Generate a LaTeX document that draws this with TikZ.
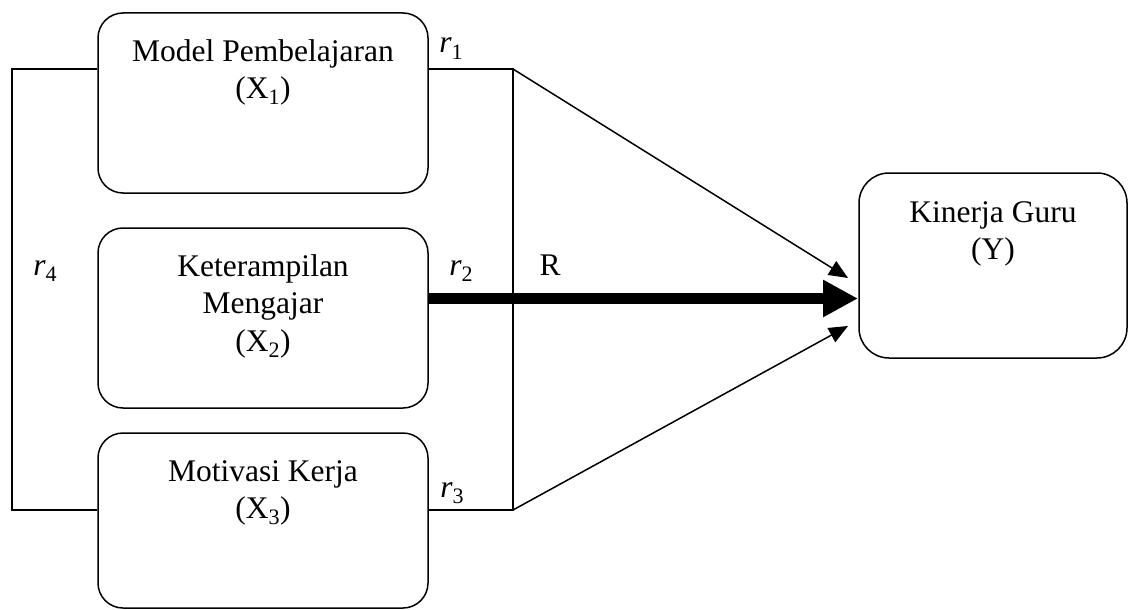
\documentclass[tikz,border=0pt]{standalone}
\usepackage{fontspec}
\setmainfont{Liberation Serif}
\usetikzlibrary{arrows.meta}
\tikzset{
  box/.style={draw, line width=1.5pt, rounded corners=25pt, inner sep=0pt},
  txt/.style={align=center, anchor=north, inner sep=0pt, font=\fontsize{31.5}{37.5}\selectfont},
  lbl/.style={anchor=base, inner sep=0pt, font=\fontsize{31.5}{36}\selectfont},
  conn/.style={line width=1.5pt},
  arr/.style={line width=1.5pt, -{Triangle[length=19pt,width=16pt]}},
  bigarr/.style={line width=11pt, -{Triangle[length=35pt,width=35pt]}}
}
\newcommand{\rlab}[1]{\textit{r}\raisebox{-0.22em}{\fontsize{22}{24}\selectfont #1}}
\begin{document}
\begin{tikzpicture}[x=1pt,y=-1pt]
\useasboundingbox (0,0) rectangle (1130,610);
% boxes
\node[box, minimum width=330pt, minimum height=180pt] (x1) at (263,103) {};
\node[box, minimum width=330pt, minimum height=180pt] (x2) at (263,318) {};
\node[box, minimum width=330pt, minimum height=175pt] (x3) at (263,520.5) {};
\node[box, minimum width=268pt, minimum height=185pt, rounded corners=30pt] (y) at (993,265.5) {};
% box texts
\node[txt] (x1t) at (263,39) {Model Pembelajaran\\(X\textsubscript{1})};
\node[txt] (x2t) at (263,254) {Keterampilan\\Mengajar\\(X\textsubscript{2})};
\node[txt] (x3t) at (263,460) {Motivasi Kerja\\(X\textsubscript{3})};
\node[txt] (yt) at (993,201) {Kinerja Guru\\(Y)};
% coordinates
\coordinate (lt) at (12,69);
\coordinate (lb) at (12,510);
\coordinate (rt) at (513,69);
\coordinate (rb) at (513,510);
\coordinate (ya) at (848,278);
\coordinate (ym) at (858,298.5);
\coordinate (yb) at (848,326);
% connectors
\draw[conn] (x1.west |- lt) -- (lt) -- (lb) -- (x3.west |- lb);
\draw[conn] (x1.east |- rt) -- (rt) -- (rb) -- (x3.east |- rb);
\draw[arr] (rt) -- (ya);
\draw[arr] (rb) -- (yb);
\draw[bigarr] (x2.east |- ym) -- (ym);
% labels
\node[lbl] (r1) at (451,53) {\rlab{1}};
\node[lbl] (r2) at (461,275) {\rlab{2}};
\node[lbl] (r3) at (452,497) {\rlab{3}};
\node[lbl] (r4) at (45,275) {\rlab{4}};
\node[lbl] (R) at (550,275) {R};
\end{tikzpicture}
\end{document}
